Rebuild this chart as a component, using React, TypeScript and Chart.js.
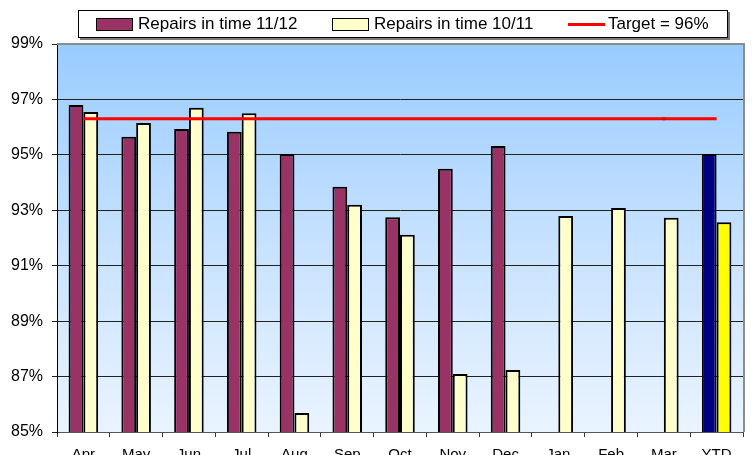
import React, { useEffect, useRef } from "react";
import { Chart, registerables } from "chart.js";

Chart.register(...registerables);

const categories = ["Apr", "May", "Jun", "Jul", "Aug", "Sep", "Oct", "Nov", "Dec", "Jan", "Feb", "Mar", "YTD"];
const repairs1112: (number | null)[] = [96.8, 95.65, 95.93, 95.83, 95.03, 93.85, 92.75, 94.5, 95.32, null, null, null, 95.03];
const repairs1011: number[] = [96.55, 96.15, 96.7, 96.5, 85.69, 93.2, 92.12, 87.09, 87.24, 92.79, 93.08, 92.73, 92.57];
const target: number[] = [96.3, 96.3, 96.3, 96.3, 96.3, 96.3, 96.3, 96.3, 96.3, 96.3, 96.3, 96.3, 96.3];
const yMin = 85;
const yMax = 99;
const yStep = 2;

const labels1112 = "Repairs in time 11/12";
const labels1011 = "Repairs in time 10/11";
const labelTarget = "Target = 96%";

const FONT = '"Liberation Sans", Arial, sans-serif';

const W = 752;
const H = 470;
const PLOT_LEFT = 57;
const PLOT_TOP = 44;
const PLOT_RIGHT = 743;
const PLOT_BOTTOM = 432;

const bgPlugin = {
  id: "plotBg",
  beforeDraw(chart: any) {
    const { ctx, chartArea } = chart;
    const { left, top, right, bottom } = chartArea;
    const g = ctx.createLinearGradient(0, top, 0, bottom);
    g.addColorStop(0, "#99CCFF");
    g.addColorStop(0.5, "#C6E1FF");
    g.addColorStop(1, "#EAF4FF");
    ctx.save();
    ctx.fillStyle = g;
    ctx.fillRect(left, top, right - left, bottom - top);
    ctx.restore();
  },
  afterDraw(chart: any) {
    const { ctx, chartArea } = chart;
    const { left, top, right, bottom } = chartArea;
    ctx.save();
    ctx.strokeStyle = "#8C8C8C";
    ctx.lineWidth = 2;
    ctx.beginPath();
    ctx.moveTo(left, top);
    ctx.lineTo(right + 2, top);
    ctx.moveTo(right + 1, top);
    ctx.lineTo(right + 1, bottom);
    ctx.stroke();
    ctx.restore();
  },
};

export default function App() {
  const ref = useRef<HTMLCanvasElement | null>(null);

  useEffect(() => {
    const canvas = ref.current;
    if (!canvas) return;
    const chart = new Chart(canvas, {
      type: "bar",
      data: {
        labels: categories,
        datasets: [
          {
            type: "line",
            label: labelTarget,
            data: target,
            borderColor: "#FF0000",
            borderWidth: 3,
            pointStyle: "rect",
            pointRadius: categories.map((c) => (c === "Mar" ? 2 : 0)),
            pointBackgroundColor: "#CC0000",
            pointBorderColor: "#CC0000",
            pointBorderWidth: 0,
            fill: false,
            order: 0,
          } as any,
          {
            label: labels1112,
            data: repairs1112,
            backgroundColor: categories.map((c) => (c === "YTD" ? "#000080" : "#993366")),
            borderColor: "#000000",
            borderWidth: 2,
            order: 1,
          },
          {
            label: labels1011,
            data: repairs1011,
            backgroundColor: categories.map((c) => (c === "YTD" ? "#FFFF00" : "#FFFFCC")),
            borderColor: "#000000",
            borderWidth: 2,
            order: 1,
          },
        ],
      },
      options: {
        responsive: false,
        animation: false,
        layout: { padding: { left: 0, right: W - PLOT_RIGHT, top: PLOT_TOP, bottom: 0 } },
        datasets: {
          bar: { categoryPercentage: 0.56, barPercentage: 1.0 },
        } as any,
        plugins: {
          legend: { display: false },
          tooltip: { enabled: false },
        },
        scales: {
          x: {
            offset: true,
            grid: {
              offset: true,
              drawOnChartArea: false,
              drawTicks: true,
              tickLength: 5,
              color: "#333333",
            },
            border: { color: "#555555", width: 1 },
            ticks: {
              color: "#000000",
              font: { family: FONT, size: 15 },
              padding: 9,
              maxRotation: 0,
              autoSkip: false,
            },
            afterFit(scale: any) {
              scale.height = H - PLOT_BOTTOM;
            },
          },
          y: {
            min: yMin,
            max: yMax,
            ticks: {
              stepSize: yStep,
              color: "#000000",
              font: { family: FONT, size: 16 },
              padding: 9,
              callback: (v: any) => v + "%",
            },
            grid: {
              color: "#222222",
              lineWidth: 1,
              tickLength: 5,
            },
            border: { color: "#000000", width: 1 },
            afterFit(scale: any) {
              scale.width = PLOT_LEFT;
            },
          },
        },
      },
      plugins: [bgPlugin],
    });
    return () => chart.destroy();
  }, []);

  const swatch = (left: number, bg: string) => (
    <div
      style={{
        position: "absolute",
        left,
        top: 7,
        width: 37,
        height: 13,
        boxSizing: "border-box",
        border: "1px solid #000",
        background: bg,
      }}
    />
  );
  const text = (left: number, t: string) => (
    <div
      style={{
        position: "absolute",
        left,
        top: 0,
        height: 26,
        lineHeight: "26px",
        fontFamily: FONT,
        fontSize: 17,
        color: "#000",
        whiteSpace: "nowrap",
      }}
    >
      {t}
    </div>
  );

  return (
    <div style={{ position: "absolute", left: 0, top: 0, width: W, height: H, background: "#fff" }}>
      <canvas ref={ref} width={W} height={H} style={{ display: "block", width: W, height: H }} />
      <div
        style={{
          position: "absolute",
          left: 78,
          top: 10,
          width: 650,
          height: 28,
          boxSizing: "border-box",
          border: "1px solid #000",
          background: "#fff",
          boxShadow: "2px 2px 0 #7A7A7A",
        }}
      >
        {swatch(17, "#993366")}
        {text(59, labels1112)}
        {swatch(253, "#FFFFCC")}
        {text(295, labels1011)}
        <div style={{ position: "absolute", left: 489, top: 12, width: 37, height: 3, background: "#FF0000" }} />
        {text(529, labelTarget)}
      </div>
    </div>
  );
}
